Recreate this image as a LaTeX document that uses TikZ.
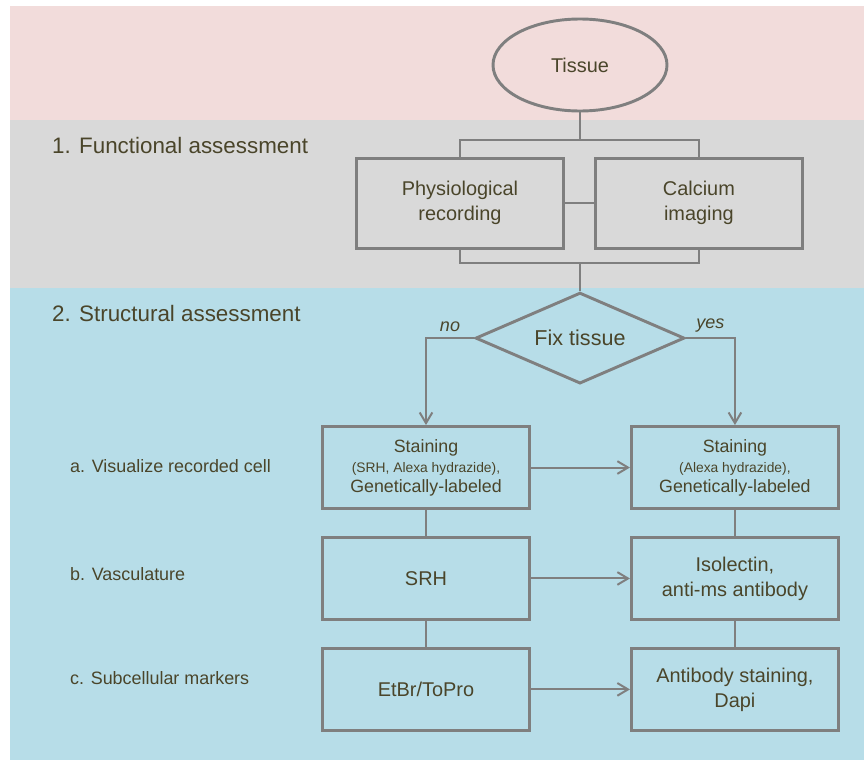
\documentclass[tikz,border=0pt]{standalone}
\usepackage{fontspec}
\setmainfont{Liberation Sans}
\usepackage{xcolor}
\usepackage{tikz}
\usetikzlibrary{shapes,arrows.meta,positioning}

\definecolor{tissuebg}{HTML}{F2DCDB}
\definecolor{funcbg}{HTML}{D9D9D9}
\definecolor{structbg}{HTML}{B7DDE8}
\definecolor{edge}{HTML}{7F7F7F}
\definecolor{ink}{HTML}{4A452A}

\begin{document}
\begin{tikzpicture}[
    node distance=0.78cm and 2.97cm,
    stage/.style={ellipse, draw=edge, line width=2.5pt, minimum width=5.22cm, minimum height=2.76cm, text=ink, font=\fontsize{17}{21}\selectfont},
    assay/.style={rectangle, draw=edge, line width=2.5pt, minimum width=6.21cm, minimum height=2.7cm, text=ink, align=center, font=\fontsize{17}{21.3}\selectfont},
    method/.style={assay, minimum height=2.46cm},
    decision/.style={diamond, draw=edge, line width=2.5pt, minimum width=6.27cm, minimum height=2.73cm, aspect=2.3, inner sep=0pt, text=ink, font=\fontsize{18.4}{22}\selectfont},
    link/.style={draw=edge, line width=1.7pt},
    arrow/.style={link, -{Straight Barb[length=0.32cm, width=0.38cm]}},
    heading/.style={anchor=west, inner sep=0pt, text=ink, font=\fontsize{19.1}{23}\selectfont},
    rowlabel/.style={anchor=west, inner sep=0pt, text=ink, font=\fontsize{15.3}{18}\selectfont},
    branch/.style={above, inner sep=0.15cm, text=ink, font=\fontsize{15.4}{18}\selectfont\itshape},
]
    \useasboundingbox (0,0) rectangle (25.92,-22.8);

    % Background bands
    \fill[tissuebg] (0.3,-0.18) rectangle (25.92,-3.6);
    \fill[funcbg] (0.3,-3.6) rectangle (25.92,-8.64);
    \fill[structbg] (0.3,-8.64) rectangle (25.92,-22.8);

    % Band titles
    \node[heading] (func) at (1.56,-4.35) {1. Functional assessment};
    \node[heading] (struct) at (1.56,-9.39) {2. Structural assessment};

    % Tissue and functional assessment
    \node[stage] (tissue) at (17.4,-1.95) {Tissue};
    \node[assay, below=1.33cm of tissue, xshift=-3.6cm] (phys) {Physiological\\recording};
    \node[assay, right=0.87cm of phys] (calc) {Calcium\\imaging};

    % Decision
    \node[decision, below=5.36cm of tissue] (fix) {Fix tissue};

    % Structural assessment (left: unfixed, right: fixed)
    \node[method, below=1.2cm of fix, xshift=-4.62cm, font=\fontsize{15.2}{17}\selectfont] (visl) {Staining\\{\fontsize{11.8}{16}\selectfont (SRH, Alexa hydrazide),}\\Genetically-labeled};
    \node[method, right=of visl, font=\fontsize{15.2}{17}\selectfont] (visr) {Staining\\{\fontsize{11.8}{16}\selectfont (Alexa hydrazide),}\\Genetically-labeled};
    \node[method, below=of visl] (vascl) {SRH};
    \node[method, below=of visr] (vascr) {Isolectin,\\anti-ms antibody};
    \node[method, below=of vascl] (subl) {EtBr/ToPro};
    \node[method, below=of vascr] (subr) {Antibody staining,\\Dapi};

    % Row labels
    \node[rowlabel] (rowa) at (2.1,-13.98) {a. Visualize recorded cell};
    \node[rowlabel] (rowb) at (2.1,-17.22) {b. Vasculature};
    \node[rowlabel] (rowc) at (2.1,-20.34) {c. Subcellular markers};

    % Tissue to recordings
    \draw[link] (tissue.south) -- ++(0,-0.84) coordinate (topbar);
    \draw[link] (phys.north) |- (topbar) -| (calc.north);
    \draw[link] (phys.east) -- (calc.west);

    % Recordings to decision
    \draw[link] (fix.north) -- ++(0,0.84) coordinate (lowbar);
    \draw[link] (phys.south) |- (lowbar) -| (calc.south);

    % Branches
    \draw[arrow] (fix.west) -| node[branch, pos=0.25] {no} (visl.north);
    \draw[arrow] (fix.east) -| node[branch, pos=0.25] {yes} (visr.north);

    % Rows
    \draw[arrow] (visl) -- (visr);
    \draw[arrow] (vascl) -- (vascr);
    \draw[arrow] (subl) -- (subr);
    \draw[link] (visl) -- (vascl);
    \draw[link] (vascl) -- (subl);
    \draw[link] (visr) -- (vascr);
    \draw[link] (vascr) -- (subr);
\end{tikzpicture}
\end{document}
